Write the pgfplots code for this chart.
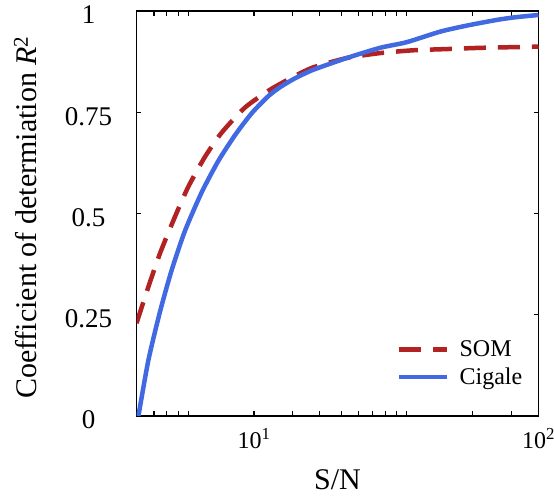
\documentclass[border=0pt]{standalone}
\usepackage{fontspec}
\setmainfont{Liberation Serif}
\usepackage{pgfplots}
\pgfplotsset{compat=1.18}
\definecolor{somred}{RGB}{178,34,34}
\definecolor{cigblue}{RGB}{65,105,225}

\begin{document}
\begin{tikzpicture}
\path[use as bounding box] (0,0) rectangle (554bp,496bp);
\begin{axis}[
  at={(136.5bp,80bp)}, anchor=south west,
  scale only axis, width=402bp, height=405bp,
  xmode=log, xmin=3.86, xmax=100, ymin=0, ymax=1,
  xtick={10,100}, xticklabels={10\textsuperscript{1},10\textsuperscript{2}},
  minor xtick={3.86,4.45,4.93,5.42,5.87,13.63,16.97,20.23,23.27,26.16,28.89,31.77,34.44,58.77,80.15},
  ytick={0,0.25,0.5,0.75,1}, yticklabels={0,0.25,0.5,0.75,1},
  tick align=inside, major tick length=5bp, minor tick length=5bp,
  every tick/.style={black, line width=1.2bp},
  axis line style={line width=1.2bp},
  xticklabel style={font=\fontsize{24bp}{28bp}\selectfont, anchor=center, yshift=-23bp},
  yticklabel style={font=\fontsize{27bp}{30bp}\selectfont, anchor=center, xshift=-48bp, yshift=-4bp},
  xlabel={S/N},
  ylabel={Coefficient of determiation \textit{R}\textsuperscript{2}},
  label style={font=\fontsize{30bp}{34bp}\selectfont, inner sep=0pt},
  xlabel style={at={(axis description cs:0.5,-0.157)}, anchor=center},
  ylabel style={at={(axis description cs:-0.276,0.49)}, anchor=center, rotate=0},
  legend style={draw=none, fill=none, at={(axis description cs:0.965,0.068)}, anchor=south east,
    font=\fontsize{24bp}{28bp}\selectfont, row sep=6bp, column sep=8bp, legend cell align=left, inner sep=0pt},
  legend image code/.code={\draw[#1] (0bp,0bp) -- (48bp,0bp);},
]
\addplot[somred, line width=4.5bp, dash pattern=on 22bp off 12bp, smooth, tension=0.4] coordinates {
(3.86,0.229) (4.25,0.319) (4.67,0.402) (5.27,0.492) (5.87,0.566) (6.72,0.640)
(7.70,0.700) (9.30,0.762) (11.23,0.803) (12.35,0.820) (13.94,0.840) (16.17,0.861)
(21.2,0.884) (27.7,0.896) (36.3,0.903) (47.6,0.906) (62.4,0.909) (100,0.912)
};
\addlegendentry{SOM}
\addplot[cigblue, line width=4.5bp, smooth, tension=0.4] coordinates {
(3.92,0.0) (4.25,0.138) (4.67,0.258) (5.13,0.360) (5.72,0.458) (6.55,0.553)
(7.49,0.630) (8.58,0.694) (9.82,0.748) (11.23,0.790) (12.35,0.812) (13.94,0.834)
(16.17,0.855) (21.2,0.884) (27.7,0.909) (34.4,0.923) (45.1,0.949) (56.0,0.964)
(71.4,0.978) (81.7,0.984) (96.0,0.989) (100,0.990)
};
\addlegendentry{Cigale}
\end{axis}
\end{tikzpicture}
\end{document}
